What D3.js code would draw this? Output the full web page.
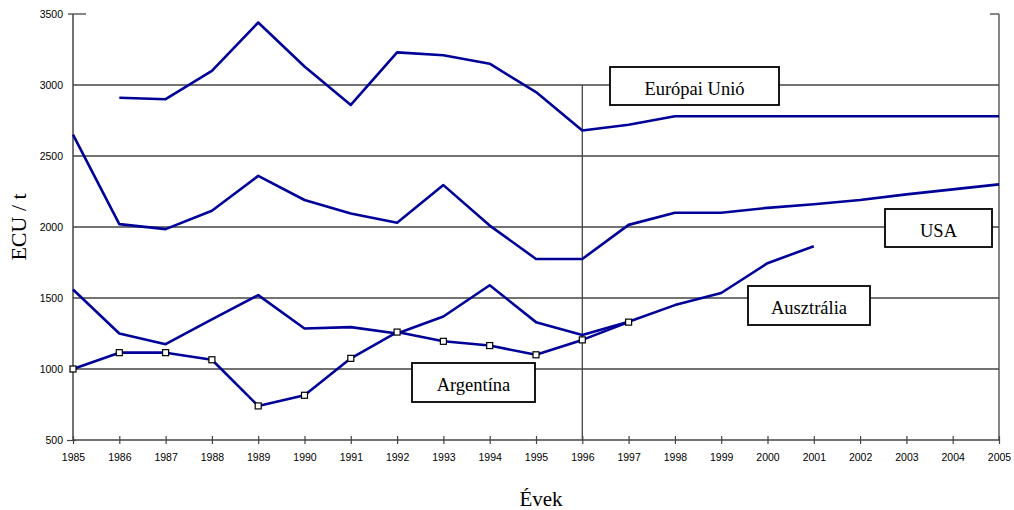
<!DOCTYPE html>
<html><head><meta charset="utf-8">
<script src="https://cdn.jsdelivr.net/npm/d3@7/dist/d3.min.js"></script>
<style>html,body{margin:0;padding:0;background:#fff;}svg{display:block;}</style>
</head><body>
<svg id="c" width="1014" height="510"></svg>
<script>
const years = d3.range(1985, 2006);
const yTicks = [500, 1000, 1500, 2000, 2500, 3000, 3500];
const euYears = [1986,1987,1988,1989,1990,1991,1992,1993,1994,1995,1996,1997,1998,1999,2000,2001,2002,2003,2004,2005];
const euValues = [2910,2900,3100,3440,3130,2860,3230,3210,3150,2950,2680,2720,2780,2780,2780,2780,2780,2780,2780,2780];
const usaYears = d3.range(1985, 2006);
const usaValues = [2650,2020,1985,2115,2360,2190,2095,2030,2295,2010,1775,1775,2015,2100,2100,2135,2160,2190,2230,2265,2300];
const ausYears = d3.range(1985, 2002);
const ausValues = [1560,1250,1175,1350,1520,1285,1295,1250,1370,1590,1330,1240,1333,1450,1535,1745,1865];
const argYears = d3.range(1985, 1998);
const argValues = [1000,1115,1115,1065,740,815,1075,1260,1195,1165,1100,1205,1330];
const labels = [
  {text:"Európai Unió", x0:610, x1:779, y0:67, y1:105},
  {text:"USA", x0:885, x1:992, y0:209, y1:247},
  {text:"Ausztrália", x0:748, x1:870, y0:286, y1:325},
  {text:"Argentína", x0:412, x1:535, y0:363, y1:402}
];

const svg = d3.select("#c");
const x = d3.scaleLinear().domain([1985, 2005]).range([73, 999]);
const y = d3.scaleLinear().domain([500, 3500]).range([440, 14]);
const gridCol = "#444";

// gridlines
svg.append("g").selectAll("line").data(yTicks.filter(v => v > 500 && v < 3500)).join("line")
  .attr("x1", x(1985)).attr("x2", x(2005))
  .attr("y1", d => y(d)).attr("y2", d => y(d))
  .attr("stroke", gridCol).attr("stroke-width", 1.3);
// top partial segments
svg.append("line").attr("x1", x(1985) - 5).attr("x2", x(1985) + 13).attr("y1", y(3500)).attr("y2", y(3500)).attr("stroke", gridCol).attr("stroke-width", 1.3);
svg.append("line").attr("x1", x(2005) - 9).attr("x2", x(2005)).attr("y1", y(3500)).attr("y2", y(3500)).attr("stroke", gridCol).attr("stroke-width", 1.3);
// right border
svg.append("line").attr("x1", x(2005)).attr("x2", x(2005)).attr("y1", y(3500)).attr("y2", y(500)).attr("stroke", gridCol).attr("stroke-width", 1.3);
// 1996 vertical
svg.append("line").attr("x1", x(1996)).attr("x2", x(1996)).attr("y1", y(3000)).attr("y2", y(500)).attr("stroke", gridCol).attr("stroke-width", 1.3);

// axes
const yAxis = d3.axisLeft(y).tickValues(yTicks).tickSize(0).tickFormat(d3.format("d"));
const gy = svg.append("g").attr("transform", `translate(${x(1985)},0)`).call(yAxis);
const xAxis = d3.axisBottom(x).tickValues(years).tickSize(0).tickFormat(d3.format("d"));
const gx = svg.append("g").attr("transform", `translate(0,${y(500)})`).call(xAxis);
[gy, gx].forEach(g => {
  g.select(".domain").attr("stroke", gridCol).attr("stroke-width", 1.5);
  g.selectAll("text").attr("font-family", "Liberation Sans, Arial, sans-serif").attr("font-size", 10.5).attr("fill", "#000");
});
gy.selectAll(".tick text").attr("x", -10).attr("dy", "0.35em");
gx.selectAll(".tick text").attr("dy", "0.71em").attr("y", 14);
gx.selectAll(".tick").append("line").attr("y1", -4).attr("y2", 4).attr("stroke", gridCol).attr("stroke-width", 1.2);
gy.select(".domain").attr("d", `M0,${y(3500)}V${y(500)}`);
gx.select(".domain").attr("d", `M${x(1985)},0H${x(2005)}`);
gy.selectAll(".tick").filter(d => d === 500).append("line").attr("x1", -6).attr("x2", 3).attr("stroke", gridCol).attr("stroke-width", 1.2);

// lines
const line = d3.line().x(d => x(d[0])).y(d => y(d[1]));
const series = [
  d3.zip(euYears, euValues),
  d3.zip(usaYears, usaValues),
  d3.zip(ausYears, ausValues),
  d3.zip(argYears, argValues)
];
svg.append("g").selectAll("path").data(series).join("path")
  .attr("d", line).attr("fill", "none").attr("stroke", "#000099").attr("stroke-width", 2.6)
  .attr("stroke-linejoin", "round");

// Argentina markers
svg.append("g").selectAll("rect").data(d3.zip(argYears, argValues)).join("rect")
  .attr("x", d => x(d[0]) - 3).attr("y", d => y(d[1]) - 3)
  .attr("width", 6).attr("height", 6)
  .attr("fill", "#fff").attr("stroke", "#000").attr("stroke-width", 1.2);

// label boxes
const lg = svg.append("g").selectAll("g").data(labels).join("g");
lg.append("rect").attr("x", d => d.x0).attr("y", d => d.y0)
  .attr("width", d => d.x1 - d.x0).attr("height", d => d.y1 - d.y0)
  .attr("fill", "#fff").attr("stroke", "#000").attr("stroke-width", 1.8);
lg.append("text").attr("x", d => (d.x0 + d.x1) / 2).attr("y", d => d.y0 + 28)
  .attr("text-anchor", "middle").attr("font-family", "Liberation Serif, Times New Roman, serif")
  .attr("font-size", 18.5).attr("fill", "#000").text(d => d.text);

// axis titles
svg.append("text").attr("transform", "translate(26,227) rotate(-90)").attr("text-anchor", "middle")
  .attr("font-family", "Liberation Serif, Times New Roman, serif").attr("font-size", 22).text("ECU / t");
svg.append("text").attr("x", 541).attr("y", 506).attr("text-anchor", "middle")
  .attr("font-family", "Liberation Serif, Times New Roman, serif").attr("font-size", 21).text("Évek");
</script>
</body></html>
